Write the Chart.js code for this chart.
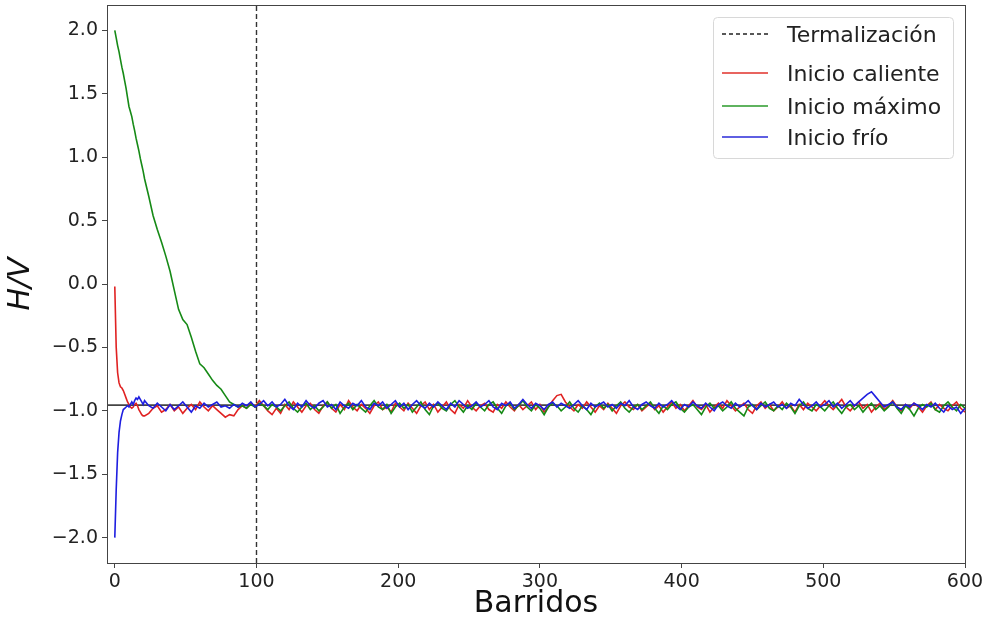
<!DOCTYPE html>
<html>
<head>
<meta charset="utf-8">
<script src="https://cdn.jsdelivr.net/npm/chart.js@4.4.0/dist/chart.umd.min.js"></script>
<style>
  html, body { margin: 0; padding: 0; background: #fff; }
  canvas { display: block; }
</style>
</head>
<body>
<canvas id="chart" width="985" height="621"></canvas>
<script>
// rejilla de barridos: cada barrido hasta 20, luego cada 3
const barridos = [];
for (let b = 0; b <= 20; b++) barridos.push(b);
for (let b = 21; b <= 600; b += 3) barridos.push(b);

const xTicks = [0, 100, 200, 300, 400, 500, 600];
const yTicks = [-2.0, -1.5, -1.0, -0.5, 0.0, 0.5, 1.0, 1.5, 2.0];
const termalizacion = 100;
const equilibrio = -0.955;

const inicioCaliente = [
  -0.02, -0.50, -0.70, -0.78, -0.81, -0.82, -0.84, -0.87, -0.90, -0.93, -0.95,
  -0.97, -0.98, -0.97, -0.95, -0.94, -0.96, -0.99, -1.01, -1.03, -1.04,
  -1.04, -1.02, -0.98, -0.96, -1.01, -0.99, -0.95, -1.00, -0.97, -1.02,
  -0.98, -0.95, -0.99, -0.93, -0.97, -1.00, -0.96, -0.99, -1.02, -1.05,
  -1.03, -1.04, -0.99, -0.96, -0.98, -0.94, -0.97, -0.92, -0.96, -1.00,
  -1.03, -0.98, -1.02, -0.95, -0.99, -0.93, -0.97, -1.01, -0.96, -0.94,
  -0.99, -1.02, -0.96, -0.93, -0.98, -1.01, -0.95, -0.99, -0.92, -0.97,
  -1.00, -0.95, -0.98, -1.02, -0.96, -0.93, -0.99, -0.97, -1.01, -0.94,
  -0.97, -1.00, -0.94, -0.98, -1.02, -0.96, -0.93, -0.99, -0.95, -1.01,
  -0.97, -0.93, -0.99, -1.02, -0.95, -0.98, -0.92, -0.97, -1.00, -0.96,
  -0.94, -0.99, -1.01, -0.95, -0.98, -0.93, -0.97, -1.00, -0.95, -0.99,
  -0.96, -0.93, -0.99, -0.95, -1.01, -0.97, -0.92, -0.88, -0.87, -0.93,
  -0.97, -1.00, -0.95, -0.98, -0.93, -0.97, -1.01, -0.96, -0.99, -0.94,
  -0.98, -1.02, -0.96, -0.93, -0.97, -0.99, -0.95, -1.00, -0.97, -0.94,
  -0.99, -0.96, -1.01, -0.97, -0.93, -0.98, -0.95, -1.00, -0.96, -0.92,
  -0.97, -0.99, -0.95, -1.01, -0.97, -0.94, -0.98, -0.92, -0.96, -1.00,
  -0.97, -0.94, -0.99, -1.02, -0.96, -0.93, -0.98, -0.95, -1.00, -0.97,
  -0.93, -0.98, -0.96, -1.01, -0.95, -0.99, -0.94, -0.97, -1.00, -0.96,
  -0.92, -0.96, -0.99, -0.95, -0.91, -0.97, -1.00, -0.96, -0.93, -0.98,
  -0.95, -1.01, -0.97, -0.94, -0.99, -0.96, -0.92, -0.97, -1.00, -0.95,
  -0.98, -0.94, -0.97, -1.01, -0.96, -0.93, -0.99, -0.95, -0.98, -1.00,
  -0.96, -0.93, -0.98, -1.01
];

const inicioMaximo = [
  2.00, 1.94, 1.88, 1.83, 1.77, 1.71, 1.66, 1.60, 1.54, 1.47, 1.40,
  1.36, 1.32, 1.26, 1.21, 1.15, 1.10, 1.05, 0.99, 0.94, 0.89,
  0.83, 0.69, 0.54, 0.43, 0.33, 0.22, 0.10, -0.05, -0.20, -0.28,
  -0.32, -0.42, -0.53, -0.63, -0.66, -0.71, -0.76, -0.80, -0.83, -0.88,
  -0.93, -0.95, -0.97, -0.96, -0.98, -0.95, -0.97, -0.94, -0.96, -0.99,
  -0.95, -0.97, -1.00, -0.96, -0.93, -0.98, -1.01, -0.97, -0.94, -0.99,
  -0.96, -1.00, -0.97, -0.93, -0.98, -0.95, -1.02, -0.97, -0.94, -0.99,
  -0.95, -0.98, -1.01, -0.96, -0.92, -0.97, -0.99, -0.95, -1.02, -0.97,
  -0.94, -0.98, -0.95, -1.01, -0.97, -0.93, -0.99, -1.03, -0.96, -0.94,
  -0.98, -1.00, -0.95, -0.92, -0.97, -1.01, -0.96, -0.99, -0.94, -0.97,
  -1.00, -0.95, -0.93, -0.98, -1.02, -0.96, -0.94, -0.99, -0.96, -0.92,
  -0.97, -1.00, -0.95, -0.98, -1.03, -0.97, -0.94, -0.96, -1.00, -0.97,
  -0.93, -0.98, -1.01, -0.96, -0.99, -1.03, -0.97, -0.94, -0.98, -0.95,
  -1.00, -0.96, -0.93, -0.98, -1.01, -0.97, -0.95, -0.99, -0.96, -0.93,
  -0.98, -1.02, -0.96, -0.99, -0.95, -0.93, -0.98, -1.01, -0.97, -0.95,
  -0.99, -1.03, -0.97, -0.94, -0.98, -0.96, -1.00, -0.97, -0.93, -0.98,
  -1.01, -1.04, -0.97, -0.95, -0.99, -0.96, -0.93, -0.98, -1.00, -0.96,
  -0.99, -0.94, -0.97, -1.02, -0.96, -0.93, -0.98, -1.00, -0.95, -0.97,
  -1.00, -0.96, -0.93, -0.98, -1.02, -0.97, -0.95, -0.99, -0.96, -1.01,
  -0.97, -0.94, -0.99, -0.96, -1.00, -0.97, -0.93, -0.98, -1.02, -0.96,
  -0.99, -1.04, -0.98, -0.95, -0.97, -0.94, -0.99, -1.01, -0.96, -0.93,
  -0.97, -1.00, -0.95, -0.98
];

const inicioFrio = [
  -2.00, -1.62, -1.33, -1.17, -1.08, -1.03, -0.99, -0.98, -0.97, -0.96, -0.97,
  -0.95, -0.93, -0.95, -0.92, -0.90, -0.91, -0.89, -0.91, -0.93, -0.95,
  -0.92, -0.96, -0.98, -0.94, -0.97, -1.00, -0.95, -0.99, -0.96, -0.93,
  -0.97, -1.01, -0.96, -0.98, -0.94, -0.97, -0.95, -0.93, -0.97, -0.96,
  -0.98, -0.95, -0.97, -0.94, -0.96, -0.93, -0.97, -0.95, -0.92, -0.96,
  -0.93, -0.97, -0.95, -0.91, -0.96, -0.99, -0.94, -0.97, -0.92, -0.96,
  -0.98, -0.94, -0.92, -0.97, -0.95, -0.99, -0.93, -0.96, -0.98, -0.94,
  -0.96, -0.92, -0.97, -0.99, -0.94, -0.96, -0.93, -0.98, -0.95, -0.92,
  -0.97, -0.94, -0.99, -0.95, -0.92, -0.96, -0.98, -0.94, -0.97, -0.93,
  -0.96, -0.99, -0.94, -0.97, -0.92, -0.95, -0.98, -0.96, -0.93, -0.97,
  -0.95, -0.92, -0.97, -0.99, -0.94, -0.96, -0.93, -0.98, -0.95, -0.91,
  -0.95, -0.98, -0.94, -0.96, -0.99, -0.95, -0.93, -0.97, -0.94, -0.96,
  -0.98, -0.95, -0.92, -0.96, -0.99, -0.94, -0.97, -0.95, -0.93, -0.97,
  -0.95, -0.98, -0.94, -0.96, -0.92, -0.97, -0.99, -0.95, -0.93, -0.96,
  -0.98, -0.94, -0.97, -0.95, -0.92, -0.96, -0.99, -0.95, -0.97, -0.93,
  -0.96, -0.98, -0.94, -0.97, -1.00, -0.95, -0.93, -0.96, -0.98, -0.94,
  -0.97, -0.95, -0.92, -0.96, -0.99, -0.94, -0.97, -0.95, -0.93, -0.97,
  -0.95, -0.98, -0.94, -0.96, -0.91, -0.95, -0.98, -0.96, -0.93, -0.97,
  -0.95, -0.92, -0.97, -0.94, -0.98, -0.95, -0.92, -0.96, -0.93, -0.90,
  -0.87, -0.85, -0.89, -0.93, -0.97, -0.95, -0.93, -0.97, -0.99, -0.95,
  -0.97, -0.94, -0.96, -0.99, -0.95, -0.97, -0.94, -0.98, -1.01, -0.96,
  -0.99, -0.97, -1.02, -0.98
];

const leyenda = [
  { texto: 'Termalización', color: '#222', dash: [4, 3] },
  { texto: 'Inicio caliente', color: '#e0302a', dash: [] },
  { texto: 'Inicio máximo', color: '#2a9a2a', dash: [] },
  { texto: 'Inicio frío', color: '#2a2ad8', dash: [] }
];

const X_MIN = -5.5, X_MAX = 600, Y_MIN = -2.2, Y_MAX = 2.2;
const toPts = (vals) => barridos.map((x, i) => ({ x: x, y: vals[i] }));
const fmt = (v) => (v < 0 ? '\u2212' : '') + Math.abs(v).toFixed(1);

// marco completo alrededor del area de datos
const marco = {
  id: 'marco',
  afterDatasetsDraw(chart) {
    const { ctx, chartArea: a } = chart;
    ctx.save();
    ctx.strokeStyle = '#444';
    ctx.lineWidth = 1;
    ctx.strokeRect(a.left + 0.5, a.top + 0.5, a.right - a.left, a.bottom - a.top);
    ctx.restore();
  }
};

// leyenda dentro del grafico, arriba a la derecha
const leyendaPlugin = {
  id: 'leyenda',
  afterDraw(chart) {
    const ctx = chart.ctx;
    const bx = 713, by = 17, bw = 240, bh = 141;
    ctx.save();
    ctx.beginPath();
    ctx.roundRect(bx + 0.5, by + 0.5, bw, bh, 4);
    ctx.fillStyle = 'rgba(255,255,255,0.85)';
    ctx.fill();
    ctx.strokeStyle = '#d8d8d8';
    ctx.lineWidth = 1;
    ctx.stroke();
    const filas = [34, 73, 106, 137];
    ctx.font = '22px "DejaVu Sans"';
    ctx.textBaseline = 'middle';
    leyenda.forEach((item, i) => {
      const y = filas[i];
      ctx.beginPath();
      ctx.setLineDash(item.dash);
      ctx.strokeStyle = item.color;
      ctx.lineWidth = 1.6;
      ctx.moveTo(722, y);
      ctx.lineTo(768, y);
      ctx.stroke();
      ctx.setLineDash([]);
      ctx.fillStyle = '#222';
      ctx.fillText(item.texto, 787, y + 2);
    });
    ctx.restore();
  }
};

const serie = (label, vals, color, order) => ({
  label: label,
  data: toPts(vals),
  borderColor: color,
  borderWidth: 1.6,
  pointRadius: 0,
  tension: 0,
  order: order
});

new Chart(document.getElementById('chart'), {
  type: 'line',
  data: {
    datasets: [
      serie('Inicio frío', inicioFrio, '#1e1ee0', 0),
      serie('Inicio máximo', inicioMaximo, '#168a16', 1),
      serie('Inicio caliente', inicioCaliente, '#e02222', 2),
      {
        label: 'Termalización',
        data: [{ x: termalizacion, y: Y_MIN }, { x: termalizacion, y: Y_MAX }],
        borderColor: '#333',
        borderWidth: 1.4,
        borderDash: [5, 3],
        pointRadius: 0,
        order: 3
      },
      {
        label: 'equilibrio',
        data: [{ x: X_MIN, y: equilibrio }, { x: X_MAX, y: equilibrio }],
        borderColor: '#444',
        borderWidth: 1.6,
        pointRadius: 0,
        order: 4
      }
    ]
  },
  options: {
    responsive: false,
    animation: false,
    layout: { padding: { top: 5, right: 20, left: 0, bottom: 0 } },
    plugins: { legend: { display: false }, tooltip: { enabled: false } },
    scales: {
      x: {
        type: 'linear',
        min: X_MIN,
        max: X_MAX,
        afterBuildTicks: (s) => { s.ticks = xTicks.map(v => ({ value: v })); },
        afterFit: (s) => { s.height = 58; s.paddingLeft = 0; s.paddingRight = 0; },
        grid: { drawOnChartArea: false, drawTicks: true, tickLength: 5, color: '#444' },
        border: { display: false },
        ticks: {
          padding: 3,
          color: '#222',
          font: { family: 'DejaVu Sans', size: 19 },
          maxRotation: 0,
          callback: (v) => String(v)
        },
        title: {
          display: true,
          text: 'Barridos',
          color: '#111',
          padding: { top: 0, bottom: 0 },
          font: { family: 'DejaVu Sans', size: 30, lineHeight: 1.1 }
        }
      },
      y: {
        type: 'linear',
        min: Y_MIN,
        max: Y_MAX,
        afterBuildTicks: (s) => { s.ticks = yTicks.map(v => ({ value: v })); },
        afterFit: (s) => { s.width = 107; s.paddingTop = 0; s.paddingBottom = 0; },
        grid: { drawOnChartArea: false, drawTicks: true, tickLength: 5, color: '#444' },
        border: { display: false },
        ticks: {
          padding: 4,
          color: '#222',
          font: { family: 'DejaVu Sans', size: 19 },
          callback: (v) => fmt(v)
        },
        title: {
          display: true,
          text: 'H/V',
          color: '#111',
          padding: { top: 5, bottom: 0 },
          font: { family: 'DejaVu Sans', size: 30, style: 'italic', lineHeight: 1.1 }
        }
      }
    }
  },
  plugins: [marco, leyendaPlugin]
});
</script>
</body>
</html>
